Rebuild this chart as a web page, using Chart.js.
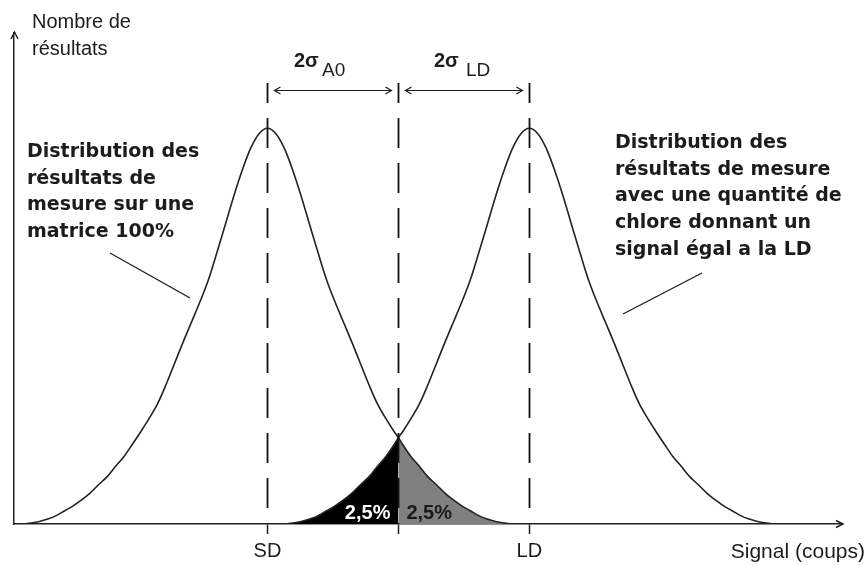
<!DOCTYPE html>
<html>
<head>
<meta charset="utf-8">
<script src="https://cdn.jsdelivr.net/npm/chart.js@4.4.0/dist/chart.umd.min.js"></script>
<style>
  html, body { margin: 0; padding: 0; background: #ffffff; }
  #wrap { width: 868px; height: 565px; }
</style>
</head>
<body>
<div id="wrap"><canvas id="c" width="868" height="565"></canvas></div>
<script>
// ---- data ----
const xRange = [0, 98];          // signal axis (arbitrary units)
const yRange = [0, 100];         // number of results (arbitrary units)
const sdValue = 30;              // SD position
const ldValue = 61;              // LD position
const thresholdValue = 45.5;     // decision threshold (crossing point)
const tickValues = [30, 45.5, 61];
const tickLabels = ['SD', '', 'LD'];

// distribution of results on a 100% matrix (centred on SD)
const sdX = [1,2,3,4,5,6,7,8,9,10,11,12,13,14,15,16,17,18,19,20,21,22,23,24,25,26,27,28,29,30,
             31,32,33,34,35,36,37,38,39,40,41,42,43,44,45,45.5,46,47,48,49,50,51,52,53,54,55,56,57,58,59];
const sdY = [0,0.2,0.5,1.0,1.7,2.7,3.7,4.9,6.3,8.0,9.6,11.7,13.7,16.2,18.8,21.5,24.5,28.4,32.7,37.0,41.1,45.2,49.7,55.2,60.9,66.7,72.0,76.5,79.5,80.6,
             79.5,76.5,72.0,66.7,60.9,55.2,49.7,45.2,41.1,37.0,32.7,28.4,24.5,21.5,18.8,17.6,16.2,13.7,11.7,9.6,8.0,6.3,4.9,3.7,2.7,1.7,1.0,0.5,0.2,0];

// distribution of results for a signal equal to LD (centred on LD)
const ldX = [32,33,34,35,36,37,38,39,40,41,42,43,44,45,45.5,46,47,48,49,50,51,52,53,54,55,56,57,58,59,60,61,
             62,63,64,65,66,67,68,69,70,71,72,73,74,75,76,77,78,79,80,81,82,83,84,85,86,87,88,89,90];
const ldY = [0,0.2,0.5,1.0,1.7,2.7,3.7,4.9,6.3,8.0,9.6,11.7,13.7,16.2,17.6,18.8,21.5,24.5,28.4,32.7,37.0,41.1,45.2,49.7,55.2,60.9,66.7,72.0,76.5,79.5,80.6,
             79.5,76.5,72.0,66.7,60.9,55.2,49.7,45.2,41.1,37.0,32.7,28.4,24.5,21.5,18.8,16.2,13.7,11.7,9.6,8.0,6.3,4.9,3.7,2.7,1.7,1.0,0.5,0.2,0];

const tailPercentLabel = '2,5%';

// ---- build library structures ----
const sdPoints = sdX.map((x, i) => ({ x: x, y: sdY[i] }));
const ldPoints = ldX.map((x, i) => ({ x: x, y: ldY[i] }));
const blackTail = ldPoints.filter(p => p.x <= thresholdValue);
const grayTail = sdPoints.filter(p => p.x >= thresholdValue);

const INK = '#1c1c1c';
const SANS = '"Liberation Sans", Arial, sans-serif';
const BOLDFONT = '"DejaVu Sans", Verdana, sans-serif';

function arrowHead(ctx, x, y, dx, dy, len, half) {
  const nx = -dy, ny = dx;
  ctx.beginPath();
  ctx.moveTo(x - dx * len + nx * half, y - dy * len + ny * half);
  ctx.lineTo(x, y);
  ctx.lineTo(x - dx * len - nx * half, y - dy * len - ny * half);
  ctx.stroke();
}

const decorPlugin = {
  id: 'decor',
  afterDatasetsDraw(chart) {
    const ctx = chart.ctx;
    const xs = chart.scales.x, ys = chart.scales.y;
    const area = chart.chartArea;
    const pSD = xs.getPixelForValue(sdValue);
    const pTh = xs.getPixelForValue(thresholdValue);
    const pLD = xs.getPixelForValue(ldValue);
    const yBase = ys.getPixelForValue(0);
    ctx.save();

    // tail percentages
    ctx.font = 'bold 20px ' + SANS;
    ctx.textBaseline = 'alphabetic';
    ctx.fillStyle = '#ffffff';
    ctx.textAlign = 'right';
    ctx.fillText(tailPercentLabel, pTh - 8, yBase - 5);
    ctx.fillStyle = '#1a1a1a';
    ctx.textAlign = 'left';
    ctx.fillText(tailPercentLabel, pTh + 8, yBase - 5);

    // dashed vertical lines
    ctx.strokeStyle = '#111';
    ctx.lineWidth = 1.8;
    ctx.setLineDash([30, 15]);
    ctx.lineDashOffset = 10;
    [pSD, pTh, pLD].forEach(px => {
      ctx.beginPath();
      ctx.moveTo(Math.round(px) + 0.5, 83);
      ctx.lineTo(Math.round(px) + 0.5, yBase);
      ctx.stroke();
    });
    ctx.setLineDash([]);

    // double arrows 2σ
    const yA = 90;
    ctx.lineWidth = 1.2;
    ctx.strokeStyle = INK;
    [[pSD, pTh], [pTh, pLD]].forEach(([a, b]) => {
      const l = a + 7, r = b - 7;
      ctx.beginPath();
      ctx.moveTo(l, yA + 0.5);
      ctx.lineTo(r, yA + 0.5);
      ctx.stroke();
      arrowHead(ctx, l, yA + 0.5, -1, 0, 6, 3.5);
      arrowHead(ctx, r, yA + 0.5, 1, 0, 6, 3.5);
    });
    ctx.fillStyle = INK;
    ctx.textAlign = 'left';
    ctx.font = 'bold 20px ' + SANS;
    ctx.fillText('2σ', 294, 67);
    ctx.fillText('2σ', 434, 67);
    ctx.font = '19px ' + SANS;
    ctx.fillText('A0', 322, 76);
    ctx.fillText('LD', 466, 76);

    // axis arrowheads
    ctx.lineWidth = 1.4;
    arrowHead(ctx, area.left + 0.5, area.top - 1, 0, -1, 7, 3.5);
    arrowHead(ctx, area.right + 1, yBase, 1, 0, 7, 3.5);

    // axis titles
    ctx.font = '20px ' + SANS;
    ctx.fillStyle = INK;
    ctx.textAlign = 'left';
    ctx.fillText('Nombre de', 32, 28);
    ctx.fillText('résultats', 32, 55);
    ctx.font = '21px ' + SANS;
    ctx.textAlign = 'right';
    ctx.fillText('Signal (coups)', 865, 558);

    // annotations
    ctx.font = 'bold 19px ' + BOLDFONT;
    ctx.textAlign = 'left';
    const leftLines = ['Distribution des', 'résultats de', 'mesure sur une', 'matrice 100%'];
    leftLines.forEach((t, i) => ctx.fillText(t, 27, 157 + i * 26.7));
    const rightLines = ['Distribution des', 'résultats de mesure', 'avec une quantité de', 'chlore donnant un', 'signal égal a la LD'];
    rightLines.forEach((t, i) => ctx.fillText(t, 615, 148 + i * 26.7));

    // pointer lines
    ctx.lineWidth = 1.3;
    ctx.strokeStyle = INK;
    ctx.beginPath();
    ctx.moveTo(110, 253); ctx.lineTo(190, 298);
    ctx.moveTo(702, 273); ctx.lineTo(623, 314);
    ctx.stroke();

    ctx.restore();
  }
};

const lineStyle = {
  borderColor: '#222',
  borderWidth: 1.6,
  pointRadius: 0,
  fill: false,
  cubicInterpolationMode: 'monotone'
};

new Chart(document.getElementById('c'), {
  type: 'line',
  data: {
    datasets: [
      Object.assign({ label: 'Matrice 100%', data: sdPoints, order: 1 }, lineStyle),
      Object.assign({ label: 'Signal = LD', data: ldPoints, order: 1 }, lineStyle),
      { label: 'tail LD', data: blackTail, order: 2, borderWidth: 0, pointRadius: 0,
        backgroundColor: '#000000', fill: 'origin', cubicInterpolationMode: 'monotone' },
      { label: 'tail SD', data: grayTail, order: 2, borderWidth: 0, pointRadius: 0,
        backgroundColor: '#808080', fill: 'origin', cubicInterpolationMode: 'monotone' }
    ]
  },
  options: {
    responsive: false,
    devicePixelRatio: 1,
    animation: false,
    events: [],
    layout: { padding: { top: 33, right: 26, left: 0, bottom: 0 } },
    plugins: { legend: { display: false }, tooltip: { enabled: false }, title: { display: false } },
    scales: {
      x: {
        type: 'linear',
        min: xRange[0],
        max: xRange[1],
        afterBuildTicks: (scale) => { scale.ticks = tickValues.map(v => ({ value: v })); },
        afterFit: (scale) => { scale.height = 41; },
        ticks: {
          autoSkip: false,
          maxRotation: 0,
          padding: 5,
          color: INK,
          font: { family: SANS, size: 20 },
          callback: (value, index) => tickLabels[index]
        },
        grid: { display: true, drawOnChartArea: false, drawTicks: true, tickLength: 10, tickColor: '#222', tickWidth: 1.5 },
        border: { display: true, color: '#222', width: 1.5 }
      },
      y: {
        type: 'linear',
        min: yRange[0],
        max: yRange[1],
        afterFit: (scale) => { scale.width = 14; },
        ticks: { display: false },
        grid: { display: true, drawOnChartArea: false, drawTicks: false },
        border: { display: true, color: '#222', width: 1.5 }
      }
    }
  },
  plugins: [decorPlugin]
});
</script>
</body>
</html>
